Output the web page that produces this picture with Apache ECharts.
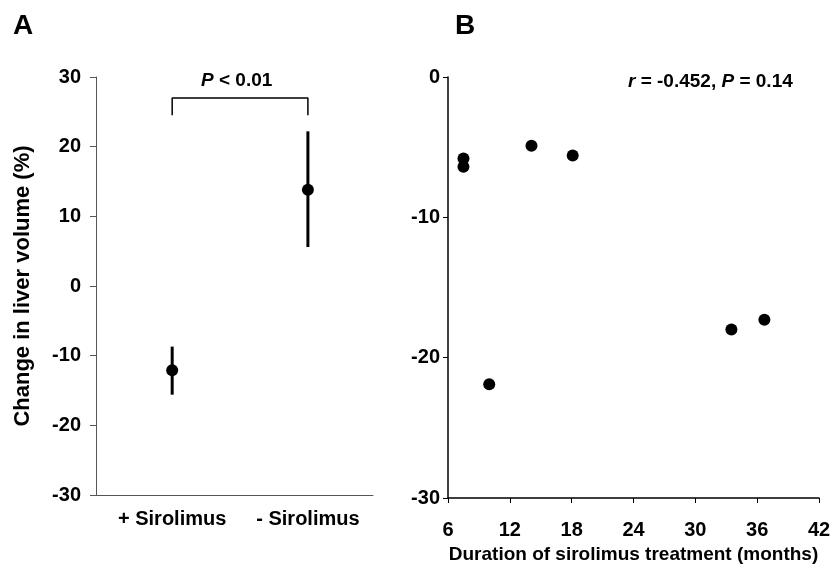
<!DOCTYPE html>
<html>
<head>
<meta charset="utf-8">
<script src="https://cdn.jsdelivr.net/npm/echarts@6/dist/echarts.min.js"></script>
<style>
  html, body { margin: 0; padding: 0; background: #fff; }
  #chart { width: 835px; height: 571px; }
</style>
</head>
<body>
<div id="chart"></div>
<script>
// paneeli A: ryhmät, keskiarvot ja virhepalkit
const groups = ['+ Sirolimus', '- Sirolimus']
const groupPos = [0.275, 0.765]
const groupMean = [-12.1, 13.8]
const groupLow = [-15.6, 5.6]
const groupHigh = [-8.7, 22.2]
const bracketLow = 24.5
const bracketTop = 27
const yTicksA = [-30, -20, -10, 0, 10, 20, 30]

// paneeli B: hoidon kesto vs. muutos
const durationMonths = [7.5, 7.5, 14.1, 18.1, 10.0, 33.5, 36.7]
const volumeChange = [-5.8, -6.4, -4.9, -5.6, -21.9, -18.0, -17.3]
const xTicksB = [6, 12, 18, 24, 30, 36, 42]

const font = 'Liberation Sans, Arial, sans-serif'
const bold = { fontFamily: font, fontWeight: 'bold', color: '#000' }

let myChart = echarts.init(document.getElementById('chart'))

const option = {
    animation: false,
    backgroundColor: '#fff',
    title: [
        { text: 'A', left: 8, top: 7, textStyle: { ...bold, fontSize: 28 } },
        { text: 'B', left: 450, top: 7, textStyle: { ...bold, fontSize: 28 } },
        {
            text: '{i|P} < 0.01', left: 196, top: 66,
            textStyle: { ...bold, fontSize: 19, rich: { i: { ...bold, fontSize: 19, fontStyle: 'italic' } } }
        },
        {
            text: '{i|r} = -0.452, {i|P} = 0.14', left: 623, top: 67,
            textStyle: { ...bold, fontSize: 19, rich: { i: { ...bold, fontSize: 19, fontStyle: 'italic' } } }
        }
    ],
    grid: [
        { left: 96, top: 77, width: 277, height: 418 },
        { left: 448, top: 77, width: 371, height: 421 }
    ],
    xAxis: [
        {
            gridIndex: 0, type: 'value', min: 0, max: 1,
            splitLine: { show: false },
            axisLine: { onZero: false, lineStyle: { color: '#555', width: 1 } },
            axisTick: { show: false },
            axisLabel: {
                customValues: groupPos,
                formatter: v => groups[groupPos.indexOf(v)] || '',
                ...bold, fontSize: 20, margin: 14
            }
        },
        {
            gridIndex: 1, type: 'value', min: 6, max: 42, interval: 6,
            splitLine: { show: false },
            axisLine: { onZero: false, lineStyle: { color: '#000', width: 1.5 } },
            axisTick: { length: 5, lineStyle: { color: '#000' } },
            axisLabel: { ...bold, fontSize: 20, margin: 22 },
            name: 'Duration of sirolimus treatment (months)',
            nameLocation: 'middle', nameGap: 47,
            nameTextStyle: { ...bold, fontSize: 19 }
        }
    ],
    yAxis: [
        {
            gridIndex: 0, type: 'value', min: -30, max: 30, interval: 10,
            splitLine: { show: false },
            axisLine: { show: true, onZero: false, lineStyle: { color: '#555', width: 1 } },
            axisTick: { show: true, length: 6, lineStyle: { color: '#555' } },
            axisLabel: { ...bold, fontSize: 20, margin: 15 },
            name: 'Change in liver volume (%)',
            nameLocation: 'middle', nameGap: 62,
            nameTextStyle: { ...bold, fontSize: 22 }
        },
        {
            gridIndex: 1, type: 'value', min: -30, max: 0, interval: 10,
            splitLine: { show: false },
            axisLine: { show: true, onZero: false, lineStyle: { color: '#000', width: 1.5 } },
            axisTick: { show: true, length: 5, lineStyle: { color: '#000' } },
            axisLabel: { ...bold, fontSize: 20, margin: 8 }
        }
    ],
    series: [
        { // virhepalkit
            type: 'custom', xAxisIndex: 0, yAxisIndex: 0,
            data: groupPos.map((x, i) => [x, groupLow[i], groupHigh[i]]),
            renderItem: function (params, api) {
                const a = api.coord([api.value(0), api.value(1)])
                const b = api.coord([api.value(0), api.value(2)])
                return { type: 'line', shape: { x1: a[0], y1: a[1], x2: b[0], y2: b[1] }, style: { stroke: '#000', lineWidth: 3 } }
            },
            z: 2
        },
        {
            type: 'scatter', xAxisIndex: 0, yAxisIndex: 0,
            data: groupPos.map((x, i) => [x, groupMean[i]]),
            symbolSize: 12, itemStyle: { color: '#000', opacity: 1 }, z: 3
        },
        { // hakasulku
            type: 'line', xAxisIndex: 0, yAxisIndex: 0,
            data: [[groupPos[0], bracketLow], [groupPos[0], bracketTop], [groupPos[1], bracketTop], [groupPos[1], bracketLow]],
            symbol: 'none', lineStyle: { color: '#000', width: 1.5 }
        },
        {
            type: 'scatter', xAxisIndex: 1, yAxisIndex: 1,
            data: durationMonths.map((d, i) => [d, volumeChange[i]]),
            symbolSize: 12, itemStyle: { color: '#000', opacity: 1 }
        }
    ]
}

myChart.setOption(option)
</script>
</body>
</html>
